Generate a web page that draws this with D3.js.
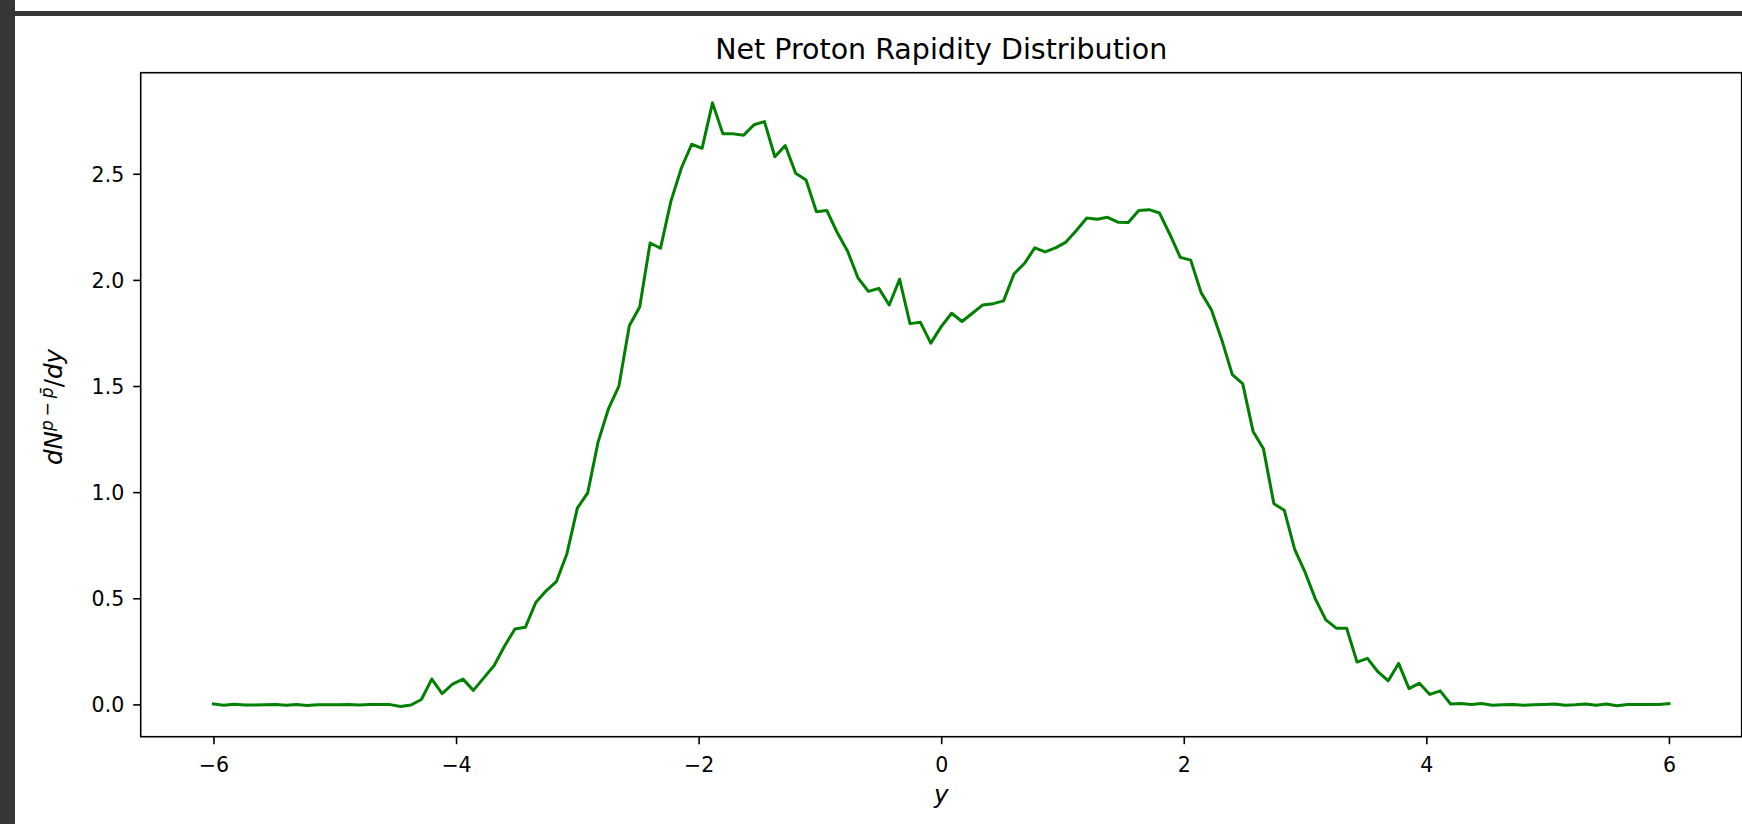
<!DOCTYPE html>
<html lang="en">

<head>
    <meta charset="UTF-8">
    <title>Net Proton Rapidity Distribution</title>
    <script src="https://d3js.org/d3.v7.min.js"></script>
    <style type="text/css">
        body {
            margin: 0;
            background-color: #fff;
        }

        svg text {
            font-family: "DejaVu Sans", sans-serif;
            fill: #000;
        }
    </style>
</head>

<body>
    <div id="chartArea"></div>
    <script type="text/javascript">
        // rapidity grid: 141 samples from -6 to 6
        var nPoints = 141;
        var yMin = -6, yMax = 6;

        // dN(p - pbar)/dy
        var netProton = [
            0.002, -0.004, 0.001, -0.003, -0.003, -0.002, -0.001, -0.004, -0.001, -0.005,
            -0.002, -0.002, -0.002, 0.000, -0.003, 0.000, -0.001, -0.001, -0.010, -0.003,
            0.023, 0.119, 0.051, 0.096, 0.119, 0.066, 0.125, 0.183, 0.275, 0.355,
            0.363, 0.480, 0.535, 0.580, 0.710, 0.925, 0.997, 1.237, 1.394, 1.500,
            1.784, 1.872, 2.174, 2.149, 2.370, 2.526, 2.639, 2.620, 2.834, 2.688,
            2.688, 2.682, 2.731, 2.746, 2.580, 2.633, 2.502, 2.471, 2.321, 2.327,
            2.223, 2.135, 2.009, 1.946, 1.960, 1.882, 2.003, 1.794, 1.800, 1.702,
            1.780, 1.843, 1.804, 1.843, 1.882, 1.888, 1.901, 2.028, 2.077, 2.151,
            2.132, 2.151, 2.178, 2.233, 2.292, 2.286, 2.295, 2.272, 2.270, 2.327,
            2.331, 2.315, 2.214, 2.106, 2.093, 1.940, 1.858, 1.716, 1.554, 1.511,
            1.286, 1.204, 0.945, 0.915, 0.730, 0.623, 0.496, 0.398, 0.359, 0.359,
            0.199, 0.217, 0.154, 0.111, 0.193, 0.074, 0.100, 0.047, 0.064, 0.002,
            0.004, 0.000, 0.004, -0.004, -0.002, 0.000, -0.004, -0.002, 0.000, 0.002,
            -0.004, -0.002, 0.002, -0.004, 0.002, -0.006, 0.000, 0.000, 0.000, 0.000,
            0.004
        ];

        var xTicks = [-6, -4, -2, 0, 2, 4, 6];
        var yTicks = [0.0, 0.5, 1.0, 1.5, 2.0, 2.5];

        var rapidity = d3.range(nPoints).map(function (i) {
            return yMin + i * (yMax - yMin) / (nPoints - 1);
        });
        var dataset = rapidity.map(function (y, i) {
            return { y: y, v: netProton[i] };
        });

        var W = 1742, H = 824;
        var box = { left: 140.7, right: 1741.7, top: 72.7, bottom: 736.7 };

        var svg = d3.select('#chartArea').append('svg')
            .attr('width', W)
            .attr('height', H);

        // notebook frame around the output cell
        svg.append('rect').attr('x', 0).attr('y', 0).attr('width', W).attr('height', H).attr('fill', '#fff');
        svg.append('rect').attr('x', 0).attr('y', 11).attr('width', W).attr('height', 5).attr('fill', '#363636');
        svg.append('rect').attr('x', 0).attr('y', 0).attr('width', 15).attr('height', H).attr('fill', '#363636');

        // matplotlib-style 5% margins
        var xPad = (yMax - yMin) * 0.05;
        var vLo = d3.min(netProton), vHi = d3.max(netProton);
        var vPad = (vHi - vLo) * 0.05;

        var xScale = d3.scaleLinear()
            .domain([yMin - xPad, yMax + xPad])
            .range([box.left, box.right]);

        var yScale = d3.scaleLinear()
            .domain([vLo - vPad, vHi + vPad])
            .range([box.bottom, box.top]);

        svg.append('clipPath').attr('id', 'plotClip')
            .append('rect')
            .attr('x', box.left).attr('y', box.top)
            .attr('width', box.right - box.left).attr('height', box.bottom - box.top);

        var line = d3.line()
            .x(function (d) { return xScale(d.y); })
            .y(function (d) { return yScale(d.v); });

        svg.append('path')
            .datum(dataset)
            .attr('clip-path', 'url(#plotClip)')
            .attr('fill', 'none')
            .attr('stroke', '#008000')
            .attr('stroke-width', 3)
            .attr('stroke-linejoin', 'round')
            .attr('stroke-linecap', 'square')
            .attr('d', line);

        // axes
        var xAxis = d3.axisBottom(xScale)
            .tickValues(xTicks)
            .tickSize(7.5)
            .tickSizeOuter(0)
            .tickPadding(13);

        var yAxis = d3.axisLeft(yScale)
            .tickValues(yTicks)
            .tickFormat(d3.format('.1f'))
            .tickSize(7.5)
            .tickSizeOuter(0)
            .tickPadding(9);

        var gx = svg.append('g')
            .attr('transform', 'translate(0,' + box.bottom + ')')
            .call(xAxis);
        var gy = svg.append('g')
            .attr('transform', 'translate(' + box.left + ',0)')
            .call(yAxis);

        [gx, gy].forEach(function (g) {
            g.select('.domain').remove();
            g.selectAll('line').attr('stroke', '#000').attr('stroke-width', 1.6);
            g.selectAll('text')
                .attr('font-family', '"DejaVu Sans", sans-serif')
                .attr('font-size', 20.5)
                .attr('fill', '#000');
        });
        gy.selectAll('text').attr('dy', '0.36em');

        // spines
        svg.append('rect')
            .attr('x', box.left).attr('y', box.top)
            .attr('width', box.right - box.left).attr('height', box.bottom - box.top)
            .attr('fill', 'none')
            .attr('stroke', '#000')
            .attr('stroke-width', 1.6);

        // title
        svg.append('text')
            .attr('x', (box.left + box.right) / 2)
            .attr('y', 58.5)
            .attr('text-anchor', 'middle')
            .attr('font-size', 28.5)
            .text('Net Proton Rapidity Distribution');

        // x label
        var labelSize = 24.5;
        svg.append('text')
            .attr('x', (box.left + box.right) / 2)
            .attr('y', 803)
            .attr('text-anchor', 'middle')
            .attr('font-size', labelSize)
            .attr('font-style', 'italic')
            .text('y');

        // y label: dN^{p - pbar}/dy
        var supSize = labelSize * 0.7, supRise = 9, opGap = 3.8;
        var ylx = 62, yly = 407;
        var yl = svg.append('text')
            .attr('x', ylx)
            .attr('y', yly)
            .attr('text-anchor', 'middle')
            .attr('font-size', labelSize)
            .attr('transform', 'rotate(-90,' + ylx + ',' + yly + ')');
        yl.append('tspan').attr('font-style', 'italic').text('dN');
        yl.append('tspan').attr('font-size', supSize).attr('dy', -supRise).attr('font-style', 'italic').text('p');
        yl.append('tspan').attr('font-size', supSize).attr('dx', opGap).text('\u2212');
        yl.append('tspan').attr('font-size', supSize).attr('dx', opGap).attr('font-style', 'italic').text('p\u0304');
        yl.append('tspan').attr('dy', supRise).text('/');
        yl.append('tspan').attr('font-style', 'italic').text('dy');
    </script>
</body>

</html>
